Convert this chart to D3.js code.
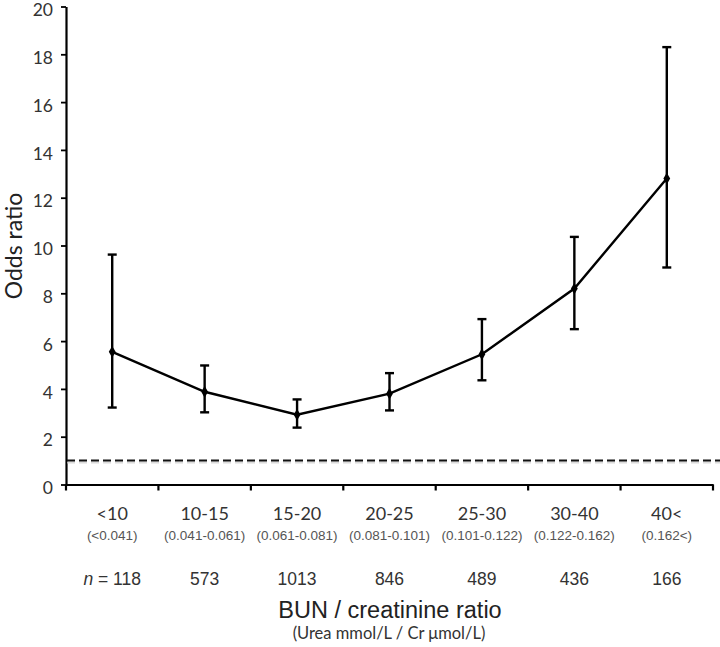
<!DOCTYPE html>
<html><head><meta charset="utf-8">
<script src="https://cdn.jsdelivr.net/npm/d3@7"></script>
<style>body{margin:0;background:#fff}svg{display:block}</style>
</head><body>
<script>
const categories = ["<10","10-15","15-20","20-25","25-30","30-40","40<"];
const subLabels = ["(<0.041)","(0.041-0.061)","(0.061-0.081)","(0.081-0.101)","(0.101-0.122)","(0.122-0.162)","(0.162<)"];
const nValues = ["118","573","1013","846","489","436","166"];
const oddsRatio = [5.55, 3.88, 2.92, 3.8, 5.45, 8.2, 12.8];
const ciLower = [3.22, 3.02, 2.38, 3.1, 4.36, 6.5, 9.08];
const ciUpper = [9.62, 4.98, 3.56, 4.66, 6.92, 10.36, 18.3];
const yTicks = [0,2,4,6,8,10,12,14,16,18,20];
const refLine = 1;

const W=720,H=647;
const svg=d3.select("body").append("svg").attr("width",W).attr("height",H);
const x=d3.scaleBand().domain(categories).range([66,713]).padding(0);
const y=d3.scaleLinear().domain([0,20]).range([484.5,6.5]);
const tickFont="Lato, 'Open Sans', sans-serif";
const arial="'Liberation Sans', Arial, sans-serif";

// y axis
const ya=svg.append("g").attr("transform","translate(66,0)")
  .call(d3.axisLeft(y).tickValues(yTicks).tickSize(5).tickPadding(8).tickSizeOuter(0));
ya.select(".domain").attr("stroke","#000").attr("stroke-width",2.2);
ya.selectAll(".tick line").attr("stroke","#000").attr("stroke-width",1.8);
ya.selectAll(".tick text").attr("font-family",tickFont).attr("font-size",17.5).attr("fill","#333").attr("dy","0.52em");

// x axis
const xa=svg.append("g").attr("transform","translate(0,484.5)")
  .call(d3.axisBottom(x).tickValues([]).tickSizeOuter(0));
xa.select(".domain").attr("stroke","#000").attr("stroke-width",2.2);
const bounds=categories.map(c=>x(c)).concat([x.range()[1]]);
xa.selectAll(".bt").data(bounds).enter().append("line").attr("class","bt")
  .attr("x1",d=>d).attr("x2",d=>d).attr("y1",0).attr("y2",6).attr("stroke","#000").attr("stroke-width",2.2);

// reference line with shadow
svg.append("line").attr("x1",67).attr("x2",720).attr("y1",y(refLine)+2).attr("y2",y(refLine)+2)
  .attr("stroke","#ccc").attr("stroke-width",2).attr("stroke-dasharray","8,4").attr("opacity",0.7);
svg.append("line").attr("x1",67).attr("x2",720).attr("y1",y(refLine)).attr("y2",y(refLine))
  .attr("stroke","#111").attr("stroke-width",2).attr("stroke-dasharray","8,4");

const cx=c=>x(c)+x.bandwidth()/2;
const data=categories.map((c,i)=>({c,v:oddsRatio[i],lo:ciLower[i],hi:ciUpper[i]}));

// error bars
const eb=svg.append("g").attr("stroke","#000").attr("stroke-width",2.4);
data.forEach(d=>{
  eb.append("line").attr("x1",cx(d.c)).attr("x2",cx(d.c)).attr("y1",y(d.lo)).attr("y2",y(d.hi));
  eb.append("line").attr("x1",cx(d.c)-4.5).attr("x2",cx(d.c)+4.5).attr("y1",y(d.lo)).attr("y2",y(d.lo));
  eb.append("line").attr("x1",cx(d.c)-4.5).attr("x2",cx(d.c)+4.5).attr("y1",y(d.hi)).attr("y2",y(d.hi));
});
// line
svg.append("path").datum(data).attr("fill","none").attr("stroke","#000").attr("stroke-width",2.4)
  .attr("d",d3.line().x(d=>cx(d.c)).y(d=>y(d.v)));
// markers
svg.append("g").selectAll("path").data(data).enter().append("path")
  .attr("transform",d=>`translate(${cx(d.c)},${y(d.v)})`)
  .attr("d",d3.symbol(d3.symbolDiamond,40)).attr("fill","#000");

// category labels
svg.append("g").selectAll("text").data(categories).enter().append("text")
  .attr("x",d=>cx(d)).attr("y",520).attr("text-anchor","middle")
  .attr("font-family",tickFont).attr("font-size",18).attr("fill","#333").text(d=>d);
svg.append("g").selectAll("text").data(subLabels).enter().append("text")
  .attr("x",(d,i)=>cx(categories[i])).attr("y",540).attr("text-anchor","middle")
  .attr("font-family",arial).attr("font-size",13.5).attr("fill","#555").text(d=>d);
const nt=svg.append("g").selectAll("text").data(nValues).enter().append("text")
  .attr("x",(d,i)=>cx(categories[i])).attr("y",585).attr("text-anchor","middle")
  .attr("font-family",arial).attr("font-size",17.5).attr("fill","#333");
nt.each(function(d,i){
  const t=d3.select(this);
  if(i===0){t.append("tspan").attr("font-style","italic").text("n");t.append("tspan").text(" = "+d);}
  else t.text(d);
});

// axis titles
svg.append("text").attr("x",390).attr("y",618).attr("text-anchor","middle")
  .attr("font-family",arial).attr("font-size",23.5).attr("fill","#222").text("BUN / creatinine ratio");
svg.append("text").attr("x",389).attr("y",639).attr("text-anchor","middle")
  .attr("font-family",tickFont).attr("font-size",16.5).attr("fill","#333").text("(Urea mmol/L / Cr μmol/L)");
svg.append("text").attr("transform","translate(22,246) rotate(-90)").attr("text-anchor","middle")
  .attr("font-family",tickFont).attr("font-size",23).attr("fill","#222").text("Odds ratio");
</script>
</body></html>
